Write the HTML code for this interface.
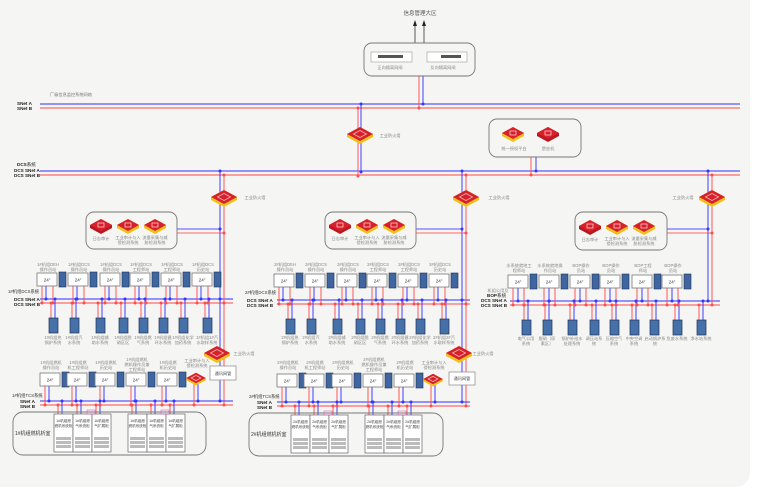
<!DOCTYPE html>
<html><head><meta charset="utf-8">
<style>
html,body{margin:0;padding:0;background:#fff;}
svg{display:block;}
text{font-family:"Liberation Sans","Noto Sans CJK SC",sans-serif;}
.l{font-size:4.2px;fill:#888;text-anchor:middle;}
.b{font-size:4.6px;fill:#222;font-weight:bold;}
.m{font-size:4.5px;fill:#333;text-anchor:middle;}
</style></head>
<body>
<svg id="s" width="766" height="495" viewBox="0 0 766 495" xmlns="http://www.w3.org/2000/svg">
<rect x="-20" y="-20" width="770" height="507" rx="14" fill="#f5f5f3"/>
<g id="g"></g>
<!-- top -->
<text x="420" y="15" style="font-size:5.5px;fill:#555;text-anchor:middle">信息管理大区</text>
<rect x="364" y="43" width="111" height="33" rx="8" fill="none" stroke="#777" stroke-width="0.9"/>
<rect x="371" y="52" width="41" height="10" fill="#fff" stroke="#999" stroke-width="0.6"/>
<rect x="378" y="55" width="25" height="3" fill="#555"/>
<rect x="427" y="52" width="40" height="10" fill="#fff" stroke="#999" stroke-width="0.6"/>
<rect x="441" y="55" width="20" height="3" fill="#555"/>
<text class="l" x="390" y="69">正向隔离网闸</text>
<text class="l" x="443" y="69">反向隔离网闸</text>
<text x="50" y="96" style="font-size:4.2px;fill:#777">厂级信息监控系统网络</text>
<text class="b" x="17" y="105">SNet A</text>
<text class="b" x="17" y="110">SNet B</text>
<text x="17" y="166" style="font-size:4.6px;fill:#222"><tspan font-weight="bold">DCS</tspan>系统</text>
<text class="b" x="14" y="172">DCS SNet A</text>
<text class="b" x="14" y="177">DCS SNet B</text>
<text class="l" x="390" y="137">工业防火墙</text>
<text class="l" x="255" y="199">工业防火墙</text>
<text class="l" x="499" y="199">工业防火墙</text>
<text class="l" x="683" y="199">工业防火墙</text>
<rect x="489" y="119" width="92" height="38" rx="8" fill="none" stroke="#777" stroke-width="0.9"/>
<text class="l" x="514" y="150">统一授权平台</text>
<text class="l" x="548" y="150">堡垒机</text>
<!-- security boxes -->
<rect x="86" y="212" width="91" height="37" rx="8" fill="none" stroke="#777" stroke-width="0.9"/>
<text class="l" x="101" y="240">日志审计</text>
<text class="l" x="128" y="239">工业审计与入</text><text class="l" x="128" y="244">侵检测系统</text>
<text class="l" x="155" y="239">流量采集与威</text><text class="l" x="155" y="244">胁检测系统</text>
<rect x="325" y="212" width="91" height="37" rx="8" fill="none" stroke="#777" stroke-width="0.9"/>
<text class="l" x="340" y="240">日志审计</text>
<text class="l" x="367" y="239">工业审计与入</text><text class="l" x="367" y="244">侵检测系统</text>
<text class="l" x="394" y="239">流量采集与威</text><text class="l" x="394" y="244">胁检测系统</text>
<rect x="575" y="212" width="92" height="38" rx="8" fill="none" stroke="#777" stroke-width="0.9"/>
<text class="l" x="590" y="241">日志审计</text>
<text class="l" x="617" y="240">工业审计与入</text><text class="l" x="617" y="245">侵检测系统</text>
<text class="l" x="644" y="240">流量采集与威</text><text class="l" x="644" y="245">胁检测系统</text>
<!-- unit 1 DCS labels -->
<g>
<text class="l" x="48" y="266">1#机组DEH</text><text class="l" x="48" y="271">操作员站</text>
<text class="l" x="79" y="266">1#机组DCS</text><text class="l" x="79" y="271">操作员站</text>
<text class="l" x="111" y="266">1#机组DCS</text><text class="l" x="111" y="271">操作员站</text>
<text class="l" x="141" y="266">1#机组DCS</text><text class="l" x="141" y="271">工程师站</text>
<text class="l" x="172" y="266">1#机组DCS</text><text class="l" x="172" y="271">工程师站</text>
<text class="l" x="203" y="266">1#机组DCS</text><text class="l" x="203" y="271">历史站</text>
<text x="8" y="293" style="font-size:4.3px;fill:#333">1#机组DCS系统</text>
<text class="b" x="14" y="301">DCS SNet A</text><text class="b" x="14" y="306">DCS SNet B</text>
<text class="l" x="53" y="339">1#机组热</text><text class="l" x="53" y="344">锅炉系统</text>
<text class="l" x="74" y="339">1#机组汽</text><text class="l" x="74" y="344">水系统</text>
<text class="l" x="100" y="339">1#机组辅</text><text class="l" x="100" y="344">助水系统</text>
<text class="l" x="123" y="339">1#机组脱</text><text class="l" x="123" y="344">硝区区</text>
<text class="l" x="143" y="339">1#机组燃</text><text class="l" x="143" y="344">气系统</text>
<text class="l" x="163" y="339">1#机组循</text><text class="l" x="163" y="344">环水系统</text>
<text class="l" x="183" y="339">1#机组化学</text><text class="l" x="183" y="344">加药系统</text>
<text class="l" x="207" y="339">1#机组1#汽</text><text class="l" x="207" y="344">水取样系统</text>
<text class="l" x="244" y="355">工业防火墙</text>
<text class="l" x="51" y="364">1#机组燃机</text><text class="l" x="51" y="369">操作员站</text>
<text class="l" x="78" y="364">1#机组燃</text><text class="l" x="78" y="369">机工程师站</text>
<text class="l" x="106" y="364">1#机组燃机</text><text class="l" x="106" y="369">历史站</text>
<text class="l" x="137" y="361">1#机组燃机</text><text class="l" x="137" y="366">燃机操作员兼</text><text class="l" x="137" y="371">工程师站</text>
<text class="l" x="168" y="364">1#机组燃</text><text class="l" x="168" y="369">机历史站</text>
<text class="l" x="197" y="362">工业审计与入</text><text class="l" x="197" y="367">侵检测系统</text>
<rect x="210" y="366" width="26" height="14" fill="#fff" stroke="#888" stroke-width="0.7"/>
<text class="l" x="223" y="375" style="fill:#444">通讯网管</text>
<text x="12" y="397" style="font-size:4.3px;fill:#333">1#机组TCS系统</text>
<text class="b" x="20" y="403">SNet A</text><text class="b" x="20" y="408">SNet B</text>
<rect x="13" y="412" width="193" height="43" rx="10" fill="none" stroke="#777" stroke-width="0.9"/>
<text x="15" y="435" style="font-size:5px;fill:#333">1#机组燃机析室</text>
</g>
<!-- unit 2 labels -->
<g>
<text class="l" x="285" y="266">2#机组DEH</text><text class="l" x="285" y="271">操作员站</text>
<text class="l" x="316" y="266">2#机组DCS</text><text class="l" x="316" y="271">操作员站</text>
<text class="l" x="348" y="266">2#机组DCS</text><text class="l" x="348" y="271">操作员站</text>
<text class="l" x="378" y="266">2#机组DCS</text><text class="l" x="378" y="271">工程师站</text>
<text class="l" x="409" y="266">2#机组DCS</text><text class="l" x="409" y="271">工程师站</text>
<text class="l" x="440" y="266">2#机组DCS</text><text class="l" x="440" y="271">历史站</text>
<text x="245" y="294" style="font-size:4.3px;fill:#333">2#机组DCS系统</text>
<text class="b" x="247" y="302">DCS SNet A</text><text class="b" x="247" y="307">DCS SNet B</text>
<text class="l" x="290" y="339">2#机组热</text><text class="l" x="290" y="344">锅炉系统</text>
<text class="l" x="311" y="339">2#机组汽</text><text class="l" x="311" y="344">水系统</text>
<text class="l" x="337" y="339">2#机组辅</text><text class="l" x="337" y="344">助水系统</text>
<text class="l" x="360" y="339">2#机组脱</text><text class="l" x="360" y="344">硝区区</text>
<text class="l" x="380" y="339">2#机组燃</text><text class="l" x="380" y="344">气系统</text>
<text class="l" x="400" y="339">2#机组循</text><text class="l" x="400" y="344">环水系统</text>
<text class="l" x="420" y="339">2#机组化学</text><text class="l" x="420" y="344">加药系统</text>
<text class="l" x="444" y="339">2#机组2#汽</text><text class="l" x="444" y="344">水取样系统</text>
<text class="l" x="483" y="355">工业防火墙</text>
<text class="l" x="288" y="364">2#机组燃机</text><text class="l" x="288" y="369">操作员站</text>
<text class="l" x="315" y="364">2#机组燃</text><text class="l" x="315" y="369">机工程师站</text>
<text class="l" x="343" y="364">2#机组燃机</text><text class="l" x="343" y="369">历史站</text>
<text class="l" x="374" y="361">2#机组燃机</text><text class="l" x="374" y="366">燃机操作员兼</text><text class="l" x="374" y="371">工程师站</text>
<text class="l" x="405" y="364">2#机组燃</text><text class="l" x="405" y="369">机历史站</text>
<text class="l" x="434" y="364">工业审计与入</text><text class="l" x="434" y="369">侵检测系统</text>
<rect x="449" y="372" width="26" height="13" fill="#fff" stroke="#888" stroke-width="0.7"/>
<text class="l" x="462" y="380" style="fill:#444">通讯网管</text>
<text x="249" y="398" style="font-size:4.3px;fill:#333">2#机组TCS系统</text>
<text class="b" x="257" y="404">SNet A</text><text class="b" x="257" y="409">SNet B</text>
<rect x="249" y="413" width="194" height="43" rx="10" fill="none" stroke="#777" stroke-width="0.9"/>
<text x="251" y="436" style="font-size:5px;fill:#333">2#机组燃机析室</text>
</g>
<!-- BOP labels -->
<g>
<text class="l" x="519" y="267">水系统就地工</text><text class="l" x="519" y="272">程师站</text>
<text class="l" x="550" y="267">水系统就地操</text><text class="l" x="550" y="272">作员站</text>
<text class="l" x="581" y="267">BOP操作</text><text class="l" x="581" y="272">员站</text>
<text class="l" x="611" y="267">BOP操作</text><text class="l" x="611" y="272">员站</text>
<text class="l" x="643" y="267">BOP工程</text><text class="l" x="643" y="272">师站</text>
<text class="l" x="673" y="267">BOP操作</text><text class="l" x="673" y="272">员站</text>
<text class="l" x="498" y="292">机组公用及</text>
<text class="b" x="487" y="297">BOP<tspan font-weight="normal">系统</tspan></text>
<text class="b" x="481" y="302">DCS SNet A</text><text class="b" x="481" y="307">DCS SNet B</text>
<text class="l" x="526" y="340">电气公用</text><text class="l" x="526" y="345">系统</text>
<text class="l" x="547" y="340">脱硝（尿</text><text class="l" x="547" y="345">素区）</text>
<text class="l" x="572" y="340">锅炉补给水</text><text class="l" x="572" y="345">处理系统</text>
<text class="l" x="594" y="340">调压站系</text><text class="l" x="594" y="345">统</text>
<text class="l" x="614" y="340">压缩空气</text><text class="l" x="614" y="345">系统</text>
<text class="l" x="634" y="340">中央空调</text><text class="l" x="634" y="345">系统</text>
<text class="l" x="655" y="340">启动锅炉系</text><text class="l" x="655" y="345">统</text>
<text class="l" x="677" y="340">危废水系统</text>
<text class="l" x="701" y="340">净水站系统</text>
</g>
<g id="c"></g>
</svg>
<script>
var NS="http://www.w3.org/2000/svg",G=document.getElementById('g'),C=document.getElementById('c');
var B="#3535ff",R="#ff4d4d";
function el(p,t,a){var e=document.createElementNS(NS,t);for(var k in a)e.setAttribute(k,a[k]);p.appendChild(e);return e;}
function ln(x1,y1,x2,y2,c,w){el(G,'line',{x1:x1,y1:y1,x2:x2,y2:y2,stroke:c,'stroke-width':w||1.1,'stroke-opacity':0.85});}
function bus(x1,x2,y,c){el(G,'line',{x1:x1,y1:y,x2:x2,y2:y,stroke:c,'stroke-width':1.8,'stroke-opacity':0.35});ln(x1,y,x2,y,c,0.8);}
function dot(x,y,c){el(C,'circle',{cx:x,cy:y,r:1.5,fill:c});}
function mon(x,y){el(C,'rect',{x:x,y:y,width:20,height:13,fill:'#fff',stroke:'#777','stroke-width':0.8});
 var t=el(C,'text',{x:x+10,y:y+8.5,'class':'m'});t.textContent='24"';
 el(C,'rect',{x:x+22,y:y-1,width:7,height:15,fill:'#3f66a0',stroke:'#1d3358','stroke-width':0.6});}
function cab(x,y){el(C,'rect',{x:x,y:y,width:9,height:15,fill:'#4670a8',stroke:'#1d3358','stroke-width':0.7});}
function fw(cx,cy,s){s=s||1;var w=13*s,h=7*s,d=3*s;
 el(C,'polygon',{points:(cx-w)+','+(cy)+' '+cx+','+(cy-h)+' '+(cx+w)+','+cy+' '+(cx+w)+','+(cy+d)+' '+cx+','+(cy+h+d)+' '+(cx-w)+','+(cy+d),fill:'#f2c01c'});
 el(C,'polygon',{points:(cx-w)+','+cy+' '+cx+','+(cy-h)+' '+(cx+w)+','+cy+' '+cx+','+(cy+h),fill:'#d8202a'});
 el(C,'polygon',{points:(cx-w*0.5)+','+cy+' '+cx+','+(cy-h*0.5)+' '+(cx+w*0.5)+','+cy+' '+cx+','+(cy+h*0.5),fill:'none',stroke:'#f7b0b0','stroke-width':0.8});}
function ic(cx,cy,y){var w=11,h=6;
 el(C,'polygon',{points:(cx-w)+','+cy+' '+cx+','+(cy-h)+' '+(cx+w)+','+cy+' '+(cx+w)+','+(cy+3)+' '+cx+','+(cy+h+3)+' '+(cx-w)+','+(cy+3),fill:y?'#f2c01c':'#b81820'});
 el(C,'polygon',{points:(cx-w)+','+cy+' '+cx+','+(cy-h)+' '+(cx+w)+','+cy+' '+cx+','+(cy+h),fill:'#d8202a'});
 el(C,'rect',{x:cx-3,y:cy-2,width:6,height:4,fill:'none',stroke:'#fff','stroke-width':0.6});}
// arrows top
el(G,'line',{x1:415,y1:43,x2:415,y2:24,stroke:'#333','stroke-width':0.8});
el(G,'line',{x1:424,y1:43,x2:424,y2:24,stroke:'#333','stroke-width':0.8});
el(C,'polygon',{points:'413,26 415,20 417,26',fill:'#222'});el(C,'polygon',{points:'422,26 424,20 426,26',fill:'#222'});
// main buses
bus(40,740,104,B);bus(40,740,108,R);bus(40,740,171,B);bus(40,740,175,R);
ln(419,76,419,108,R);ln(423,76,423,104,B);dot(423,104,B);dot(419,108,R);
ln(358,108,358,175,R);ln(361,104,361,171,B);dot(361,104,B);dot(358,108,R);dot(361,172,B);dot(358,176,R);fw(360,134);
ln(531,157,531,175,R);ln(536,157,536,171,B);dot(536,171,B);dot(531,175,R);
ic(513,133,1);ic(548,133,0);
ic(101,225,0);ic(128,225,1);ic(155,225,1);
ic(340,225,0);ic(367,225,1);ic(394,225,1);
ic(590,226,0);ic(617,226,1);ic(644,226,1);
function unit(o,top,vb,vr,tcsB,tcsR,fwy,bx){
 var xs=[37,68,100,130,161,192];
 bus(40+o,233+o,299+top,B);bus(40+o,233+o,303+top,R);
 xs.forEach(function(x){x+=o;mon(x,273+top);ln(x+5,286+top,x+5,303+top,R);ln(x+9,286+top,x+9,299+top,B);dot(x+9,299+top,B);dot(x+5,303+top,R);
  ln(x+16,286+top,x+16,303+top,R);dot(x+16,303+top,R);});
 [49,70,96,119,139,159,179,203].forEach(function(x){x+=o;cab(x,318+top);ln(x+2,303+top,x+2,318+top,R);ln(x+6,299+top,x+6,318+top,B);dot(x+6,299+top,B);dot(x+2,303+top,R);});
 // vertical
 ln(vb,171,vb,tcsB,B);ln(vr,175,vr,tcsR,R);dot(vb,171,B);dot(vr,175,R);dot(vb,299+top,B);dot(vr,303+top,R);
 fw(vr,197);
 ln(bx,229,vb,229,B);ln(bx,233,vr,233,R);dot(vb,229,B);dot(vr,233,R);
 // tcs
 var ty=top2=o?1:0;
 bus(40+o,233+o,tcsB,B);bus(40+o,233+o,tcsR,R);
 fw(vr-7,fwy);
 [40,67,95,126,157].forEach(function(x){x+=o;mon(x,373+ty);ln(x+5,386+ty,x+5,tcsR,R);ln(x+9,386+ty,x+9,tcsB,B);dot(x+9,tcsB,B);dot(x+5,tcsR,R);});
 fw(196+o,378+ty,0.75);ln(194+o,384,194+o,tcsR,R);ln(198+o,384,198+o,tcsB,B);dot(198+o,tcsB,B);dot(194+o,tcsR,R);
 dot(vb,tcsB,B);dot(vr,tcsR,R);
 [54,128].forEach(function(x0){for(var i=0;i<3;i++){var x=x0+o+i*19;
  el(C,'rect',{x:x,y:414+ty,width:19,height:38,fill:'#fff',stroke:'#666','stroke-width':0.7});
  for(var j=0;j<3;j++)el(C,'rect',{x:x+2,y:437+ty+j*4,width:15,height:3,fill:'#bbb'});
  ln(x+4,tcsR,x+4,414+ty,R);ln(x+8,tcsB,x+8,414+ty,B);dot(x+8,tcsB,B);dot(x+4,tcsR,R);}
  el(C,'rect',{x:x0+o+33,y:410+ty,width:8,height:4,fill:'none',stroke:'#e060c0','stroke-width':0.6});});
}
unit(0,0,220,224,401,405,353,177);
unit(237,1,462,466,402,406,353,416);
// unit labels for cabinets
var cl=['燃机系统柜','气系统柜','气扩展柜'];
[[54,0],[128,0],[291,1],[365,1]].forEach(function(p){for(var i=0;i<3;i++){var t=el(C,'text',{x:p[0]+9.5+i*19,y:422+p[1],'class':'l',style:'fill:#444;font-size:3.6px'});t.textContent=(p[0]>250?'2#':'1#')+'机组燃';var t2=el(C,'text',{x:p[0]+9.5+i*19,y:427+p[1],'class':'l',style:'fill:#444;font-size:3.6px'});t2.textContent=cl[i];}});
// BOP
bus(510,720,301,B);bus(510,720,305,R);
ln(708,171,708,301,B);ln(712,175,712,305,R);dot(708,171,B);dot(712,175,R);dot(708,301,B);dot(712,305,R);fw(712,197);
ln(667,229,708,229,B);ln(667,233,712,233,R);dot(708,229,B);dot(712,233,R);
[508,539,570,600,632,662].forEach(function(x){mon(x,275);ln(x+5,288,x+5,305,R);ln(x+10,288,x+10,301,B);dot(x+10,301,B);dot(x+5,305,R);ln(x+16,288,x+16,305,R);dot(x+16,305,R);});
[522,543,568,590,610,630,650,673,697].forEach(function(x){cab(x,320);ln(x+2,305,x+2,320,R);ln(x+6,301,x+6,320,B);dot(x+6,301,B);dot(x+2,305,R);});
</script>
</body></html>
